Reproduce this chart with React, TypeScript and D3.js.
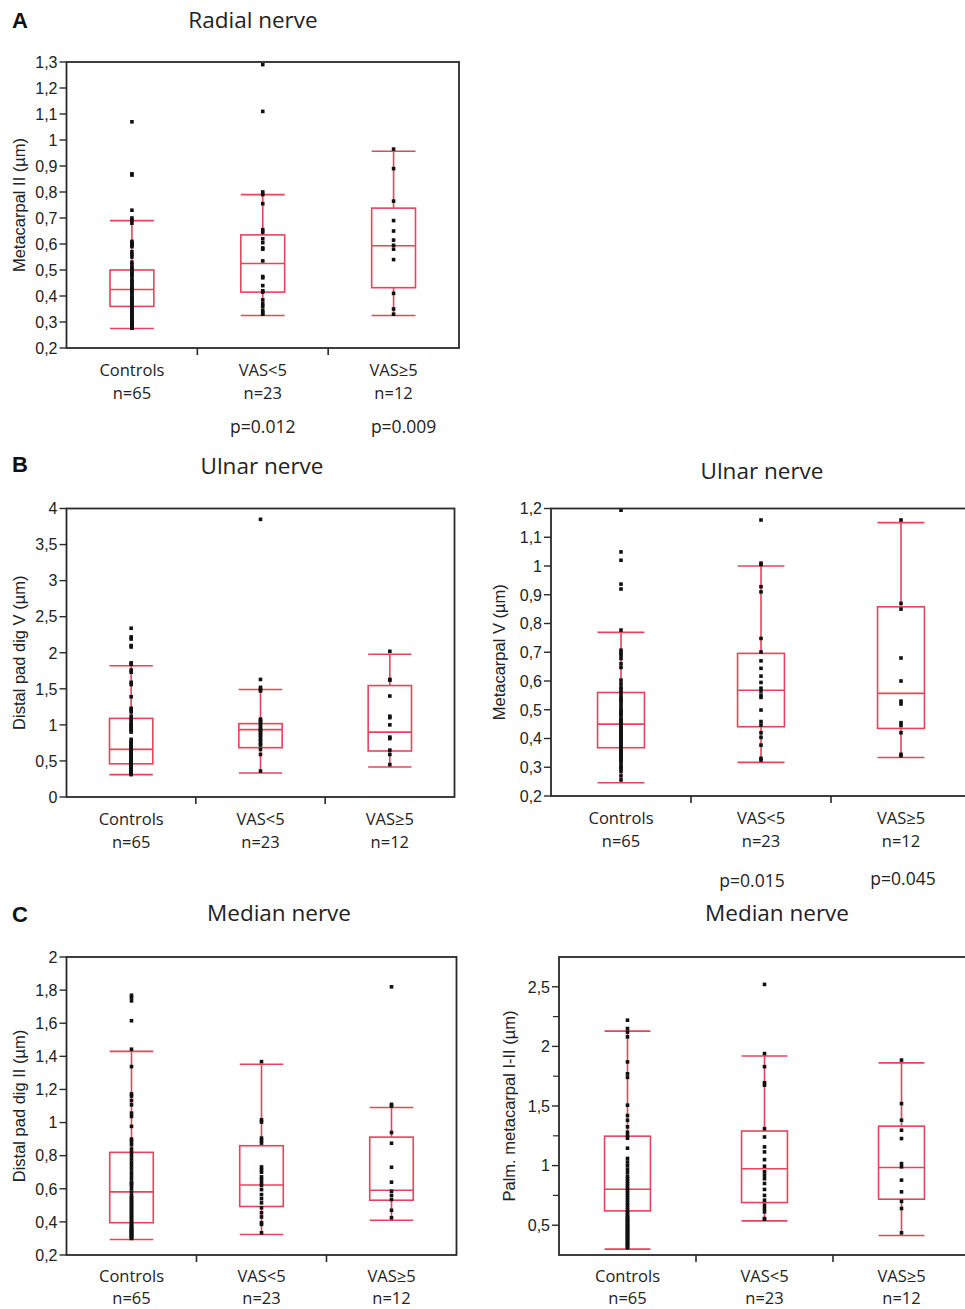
import React from 'react'
import * as d3 from 'd3'

const CATEGORIES = ['Controls', 'VAS<5', 'VAS≥5']
const GROUP_N = ['n=65', 'n=23', 'n=12']

// box stats are [lower whisker, Q1, median, Q3, upper whisker]

// A: radial nerve, metacarpal II
const RADIAL_MC2_CONTROLS = [
  1.07, 0.87, 0.865, 0.73, 0.70, 0.69, 0.68, 0.61, 0.605, 0.60, 0.595, 0.59, 0.57, 0.56, 0.55,
  0.53, 0.52, 0.51, 0.505, 0.50, 0.49, 0.485, 0.48, 0.47, 0.46, 0.455, 0.45, 0.44, 0.435, 0.43,
  0.425, 0.42, 0.415, 0.41, 0.40, 0.395, 0.39, 0.385, 0.38, 0.375, 0.37, 0.365, 0.36, 0.355, 0.35,
  0.345, 0.34, 0.335, 0.33, 0.325, 0.32, 0.315, 0.31, 0.305, 0.30, 0.298, 0.295, 0.29, 0.288, 0.285,
  0.283, 0.28, 0.278, 0.277, 0.276,
]
const RADIAL_MC2_VAS_LOW = [
  1.29, 1.11, 0.80, 0.79, 0.755, 0.655, 0.645, 0.62, 0.605, 0.585, 0.58, 0.535, 0.475, 0.47, 0.44,
  0.42, 0.415, 0.385, 0.37, 0.36, 0.345, 0.335, 0.33,
]
const RADIAL_MC2_VAS_HIGH = [0.965, 0.89, 0.765, 0.69, 0.65, 0.615, 0.595, 0.58, 0.54, 0.41, 0.35, 0.33]
const RADIAL_MC2_BOX = [
  [0.275, 0.36, 0.425, 0.50, 0.69],
  [0.325, 0.415, 0.525, 0.635, 0.79],
  [0.325, 0.432, 0.593, 0.738, 0.957],
]
const RADIAL_MC2_TICKS = [0.2, 0.3, 0.4, 0.5, 0.6, 0.7, 0.8, 0.9, 1, 1.1, 1.2, 1.3]
const RADIAL_MC2_P = ['', 'p=0.012', 'p=0.009']

// B left: ulnar nerve, distal pad dig V
const ULNAR_PAD_CONTROLS = [
  2.34, 2.22, 2.19, 2.10, 2.08, 1.86, 1.84, 1.76, 1.73, 1.59, 1.56, 1.39, 1.23, 1.21, 1.18,
  1.12, 1.08, 1.05, 1.02, 1.0, 0.98, 0.96, 0.94, 0.92, 0.90, 0.80, 0.77, 0.75, 0.73, 0.71,
  0.69, 0.67, 0.65, 0.63, 0.61, 0.60, 0.58, 0.56, 0.55, 0.53, 0.52, 0.50, 0.49, 0.48, 0.47,
  0.46, 0.45, 0.44, 0.43, 0.42, 0.41, 0.40, 0.39, 0.38, 0.375, 0.37, 0.36, 0.355, 0.35, 0.345,
  0.34, 0.335, 0.33, 0.32, 0.31,
]
const ULNAR_PAD_VAS_LOW = [
  3.85, 1.63, 1.52, 1.49, 1.47, 1.08, 1.06, 1.04, 1.01, 0.98, 0.95, 0.93, 0.91, 0.89, 0.86,
  0.84, 0.80, 0.78, 0.74, 0.72, 0.66, 0.59, 0.36,
]
const ULNAR_PAD_VAS_HIGH = [2.02, 1.63, 1.62, 1.40, 1.12, 1.10, 1.00, 0.83, 0.81, 0.65, 0.59, 0.45]
const ULNAR_PAD_BOX = [
  [0.31, 0.46, 0.66, 1.09, 1.82],
  [0.333, 0.684, 0.934, 1.017, 1.49],
  [0.416, 0.638, 0.90, 1.545, 1.98],
]
const ULNAR_PAD_TICKS = [0, 0.5, 1, 1.5, 2, 2.5, 3, 3.5, 4]

// B right: ulnar nerve, metacarpal V
const ULNAR_MC5_CONTROLS = [
  1.194, 1.049, 1.02, 0.937, 0.92, 0.777, 0.707, 0.698, 0.69, 0.678, 0.66, 0.647, 0.603, 0.59, 0.578,
  0.57, 0.56, 0.55, 0.54, 0.535, 0.53, 0.52, 0.51, 0.50, 0.495, 0.49, 0.485, 0.48, 0.47, 0.465,
  0.46, 0.455, 0.45, 0.445, 0.44, 0.435, 0.43, 0.425, 0.42, 0.415, 0.41, 0.405, 0.40, 0.395, 0.39,
  0.385, 0.38, 0.375, 0.37, 0.365, 0.36, 0.355, 0.35, 0.345, 0.34, 0.335, 0.33, 0.325, 0.32, 0.31,
  0.30, 0.296, 0.285, 0.27, 0.256,
]
const ULNAR_MC5_VAS_LOW = [
  1.16, 1.01, 1.005, 0.928, 0.91, 0.748, 0.701, 0.67, 0.644, 0.617, 0.595, 0.575, 0.565, 0.551, 0.543,
  0.499, 0.459, 0.447, 0.42, 0.404, 0.377, 0.331, 0.325,
]
const ULNAR_MC5_VAS_HIGH = [1.16, 0.87, 0.85, 0.68, 0.60, 0.53, 0.52, 0.455, 0.445, 0.42, 0.345, 0.34]
const ULNAR_MC5_BOX = [
  [0.246, 0.368, 0.45, 0.56, 0.769],
  [0.317, 0.441, 0.568, 0.696, 1.0],
  [0.334, 0.435, 0.557, 0.858, 1.151],
]
const ULNAR_MC5_TICKS = [0.2, 0.3, 0.4, 0.5, 0.6, 0.7, 0.8, 0.9, 1, 1.1, 1.2]
const ULNAR_MC5_P = ['', 'p=0.015', 'p=0.045']

// C left: median nerve, distal pad dig II
const MEDIAN_PAD_CONTROLS = [
  1.769, 1.755, 1.735, 1.615, 1.443, 1.338, 1.173, 1.16, 1.133, 1.107, 1.057, 1.037, 0.977, 0.90, 0.886,
  0.866, 0.84, 0.82, 0.80, 0.78, 0.76, 0.74, 0.72, 0.70, 0.68, 0.66, 0.64, 0.63, 0.62, 0.60,
  0.58, 0.56, 0.55, 0.54, 0.53, 0.52, 0.51, 0.50, 0.49, 0.48, 0.47, 0.46, 0.45, 0.44, 0.43,
  0.42, 0.41, 0.40, 0.39, 0.38, 0.375, 0.37, 0.36, 0.355, 0.35, 0.345, 0.34, 0.335, 0.33, 0.325,
  0.32, 0.315, 0.31, 0.305, 0.30,
]
const MEDIAN_PAD_VAS_LOW = [
  1.368, 1.017, 1.003, 0.906, 0.892, 0.876, 0.732, 0.716, 0.70, 0.672, 0.656, 0.636, 0.62, 0.595, 0.565,
  0.54, 0.515, 0.485, 0.455, 0.43, 0.395, 0.385, 0.334,
]
const MEDIAN_PAD_VAS_HIGH = [1.82, 1.11, 1.10, 0.94, 0.875, 0.73, 0.64, 0.585, 0.56, 0.535, 0.47, 0.425]
const MEDIAN_PAD_BOX = [
  [0.294, 0.395, 0.581, 0.82, 1.43],
  [0.324, 0.493, 0.623, 0.86, 1.352],
  [0.41, 0.531, 0.591, 0.912, 1.091],
]
const MEDIAN_PAD_TICKS = [0.2, 0.4, 0.6, 0.8, 1, 1.2, 1.4, 1.6, 1.8, 2]

// C right: median nerve, palmar metacarpal I-II
const MEDIAN_MC_CONTROLS = [
  2.22, 2.15, 2.12, 2.08, 1.87, 1.77, 1.74, 1.507, 1.42, 1.38, 1.325, 1.28, 1.25, 1.23, 1.146,
  1.06, 1.03, 1.0, 0.97, 0.94, 0.91, 0.89, 0.87, 0.85, 0.83, 0.81, 0.79, 0.77, 0.75, 0.73,
  0.71, 0.69, 0.67, 0.65, 0.63, 0.61, 0.60, 0.58, 0.57, 0.56, 0.55, 0.54, 0.53, 0.52, 0.51,
  0.50, 0.49, 0.48, 0.47, 0.46, 0.45, 0.44, 0.43, 0.42, 0.41, 0.40, 0.39, 0.38, 0.37, 0.36,
  0.35, 0.34, 0.33, 0.32, 0.31,
]
const MEDIAN_MC_VAS_LOW = [
  2.52, 1.94, 1.83, 1.695, 1.675, 1.31, 1.24, 1.157, 1.115, 1.05, 0.995, 0.948, 0.92, 0.89, 0.85,
  0.80, 0.75, 0.71, 0.668, 0.64, 0.612, 0.556, 0.55,
]
const MEDIAN_MC_VAS_HIGH = [1.885, 1.52, 1.381, 1.297, 1.227, 1.017, 0.99, 0.878, 0.78, 0.70, 0.64, 0.436]
const MEDIAN_MC_BOX = [
  [0.299, 0.62, 0.802, 1.247, 2.128],
  [0.536, 0.69, 0.973, 1.29, 1.92],
  [0.413, 0.718, 0.984, 1.331, 1.862],
]
const MEDIAN_MC_TICKS = [0.5, 1, 1.5, 2, 2.5]
const MEDIAN_MC_MINOR = [0.75, 1.25, 1.75, 2.25]

const RED = '#e8435c'
const FRAME = '#2a2a2a'
const SANS = '"Liberation Sans", Arial, sans-serif'
const LABEL_FONT = '"Open Sans", sans-serif'

const fmt = (v: number) => String(v).replace('.', ',')

type PanelProps = {
  left: number
  top: number
  right: number
  bottom: number
  domain: [number, number]
  ticks: number[]
  minor?: number[]
  yLabel: string
  yLabelX: number
  title: string
  titleX: number
  titleY: number
  letter?: string
  letterY?: number
  groups: number[][]
  boxes: number[][]
  pvals?: string[]
  pDx?: number[]
  pDy?: number[]
  catDy?: number
  nDy?: number
}

function BoxPanel(p: PanelProps) {
  const y = d3.scaleLinear().domain(p.domain).range([p.bottom, p.top])
  const x = d3.scaleBand<string>().domain(CATEGORIES).range([p.left, p.right]).padding(0)
  const bw = x.bandwidth() * 0.335
  const midY = (p.top + p.bottom) / 2

  return (
    <g>
      {p.letter && (
        <text x={12} y={p.letterY} fontFamily={SANS} fontWeight="bold" fontSize={22} fill="#111">
          {p.letter}
        </text>
      )}
      <text x={p.titleX} y={p.titleY} textAnchor="middle" fontFamily={LABEL_FONT} fontSize={22.5} fill="#222">
        {p.title}
      </text>

      {/* boxes, whiskers and the individual points */}
      {CATEGORIES.map((c, i) => {
        const cx = x(c)! + x.bandwidth() / 2
        const [lo, q1, med, q3, hi] = p.boxes[i]
        return (
          <g key={c}>
            <line x1={cx} x2={cx} y1={y(hi)} y2={y(q3)} stroke={RED} strokeWidth={1.6} />
            <line x1={cx} x2={cx} y1={y(q1)} y2={y(lo)} stroke={RED} strokeWidth={1.6} />
            <line x1={cx - bw / 2} x2={cx + bw / 2} y1={y(hi)} y2={y(hi)} stroke={RED} strokeWidth={1.6} />
            <line x1={cx - bw / 2} x2={cx + bw / 2} y1={y(lo)} y2={y(lo)} stroke={RED} strokeWidth={1.6} />
            <rect x={cx - bw / 2} y={y(q3)} width={bw} height={y(q1) - y(q3)} fill="none" stroke={RED} strokeWidth={1.6} />
            <line x1={cx - bw / 2} x2={cx + bw / 2} y1={y(med)} y2={y(med)} stroke={RED} strokeWidth={1.6} />
            {p.groups[i].map((v, j) => (
              <rect key={j} x={cx - 1.8} y={y(v) - 1.8} width={3.6} height={3.6} fill="#111" />
            ))}
          </g>
        )
      })}

      {/* frame */}
      <rect x={p.left} y={p.top} width={p.right - p.left} height={p.bottom - p.top} fill="none" stroke={FRAME} strokeWidth={1.8} />

      {/* y axis */}
      {p.ticks.map((t) => (
        <g key={t}>
          <line x1={p.left - 7} x2={p.left} y1={y(t)} y2={y(t)} stroke={FRAME} strokeWidth={1.4} />
          <text x={p.left - 9} y={y(t)} dy="0.36em" textAnchor="end" fontFamily={SANS} fontSize={16} fill="#222">
            {fmt(t)}
          </text>
        </g>
      ))}
      {(p.minor || []).map((t) => (
        <line key={t} x1={p.left - 6} x2={p.left} y1={y(t)} y2={y(t)} stroke={FRAME} strokeWidth={1.2} />
      ))}
      <text
        transform={`translate(${p.yLabelX},${midY}) rotate(-90)`}
        textAnchor="middle"
        fontFamily={SANS}
        fontSize={16.5}
        fill="#222"
      >
        {p.yLabel}
      </text>

      {/* x axis: group separators and labels */}
      {CATEGORIES.slice(1).map((c) => (
        <line key={c} x1={x(c)} x2={x(c)} y1={p.bottom} y2={p.bottom + 7} stroke={FRAME} strokeWidth={1.6} />
      ))}
      {CATEGORIES.map((c, i) => {
        const cx = x(c)! + x.bandwidth() / 2
        return (
          <g key={c} fontFamily={LABEL_FONT} fontSize={16.5} fill="#222" textAnchor="middle">
            <text x={cx} y={p.bottom + (p.catDy ?? 27.5)}>{c}</text>
            <text x={cx} y={p.bottom + (p.nDy ?? 51)}>{GROUP_N[i]}</text>
            {p.pvals && p.pvals[i] && (
              <text x={cx + (p.pDx ? p.pDx[i] : 0)} y={p.bottom + (p.pDy ? p.pDy[i] : 84)} fontSize={17.5}>
                {p.pvals[i]}
              </text>
            )}
          </g>
        )
      })}
    </g>
  )
}

export default function App() {
  return (
    <svg
      width={965}
      height={1309}
      viewBox="0 0 965 1309"
      style={{ position: 'absolute', left: 0, top: 0, background: '#fff' }}
    >
      <rect width={965} height={1309} fill="#fff" />
      <BoxPanel
        left={66.5} top={62} right={459} bottom={348}
        domain={[0.2, 1.3]} ticks={RADIAL_MC2_TICKS}
        yLabel="Metacarpal II (µm)" yLabelX={25}
        title="Radial nerve" titleX={253} titleY={28}
        letter="A" letterY={28}
        groups={[RADIAL_MC2_CONTROLS, RADIAL_MC2_VAS_LOW, RADIAL_MC2_VAS_HIGH]}
        boxes={RADIAL_MC2_BOX}
        pvals={RADIAL_MC2_P} pDx={[0, 0, 10]} pDy={[0, 85, 85]}
      />
      <BoxPanel
        left={66.5} top={508.5} right={454.5} bottom={797}
        domain={[0, 4]} ticks={ULNAR_PAD_TICKS}
        yLabel="Distal pad dig V (µm)" yLabelX={25}
        title="Ulnar nerve" titleX={262} titleY={474}
        letter="B" letterY={472}
        groups={[ULNAR_PAD_CONTROLS, ULNAR_PAD_VAS_LOW, ULNAR_PAD_VAS_HIGH]}
        boxes={ULNAR_PAD_BOX}
      />
      <BoxPanel
        left={551} top={508.5} right={971} bottom={796}
        domain={[0.2, 1.2]} ticks={ULNAR_MC5_TICKS}
        yLabel="Metacarpal V (µm)" yLabelX={505}
        title="Ulnar nerve" titleX={762} titleY={479}
        groups={[ULNAR_MC5_CONTROLS, ULNAR_MC5_VAS_LOW, ULNAR_MC5_VAS_HIGH]}
        boxes={ULNAR_MC5_BOX}
        pvals={ULNAR_MC5_P} pDx={[0, -9, 2]} pDy={[0, 91, 89]}
      />
      <BoxPanel
        left={66.5} top={957} right={456.5} bottom={1255}
        domain={[0.2, 2]} ticks={MEDIAN_PAD_TICKS}
        yLabel="Distal pad dig II (µm)" yLabelX={25}
        title="Median nerve" titleX={279} titleY={921}
        letter="C" letterY={922}
        groups={[MEDIAN_PAD_CONTROLS, MEDIAN_PAD_VAS_LOW, MEDIAN_PAD_VAS_HIGH]}
        boxes={MEDIAN_PAD_BOX}
        catDy={26.5} nDy={49}
      />
      <BoxPanel
        left={559} top={957} right={970} bottom={1255}
        domain={[0.25, 2.75]} ticks={MEDIAN_MC_TICKS} minor={MEDIAN_MC_MINOR}
        yLabel="Palm. metacarpal I-II (µm)" yLabelX={515}
        title="Median nerve" titleX={777} titleY={921}
        groups={[MEDIAN_MC_CONTROLS, MEDIAN_MC_VAS_LOW, MEDIAN_MC_VAS_HIGH]}
        boxes={MEDIAN_MC_BOX}
        catDy={26.5} nDy={49}
      />
    </svg>
  )
}
